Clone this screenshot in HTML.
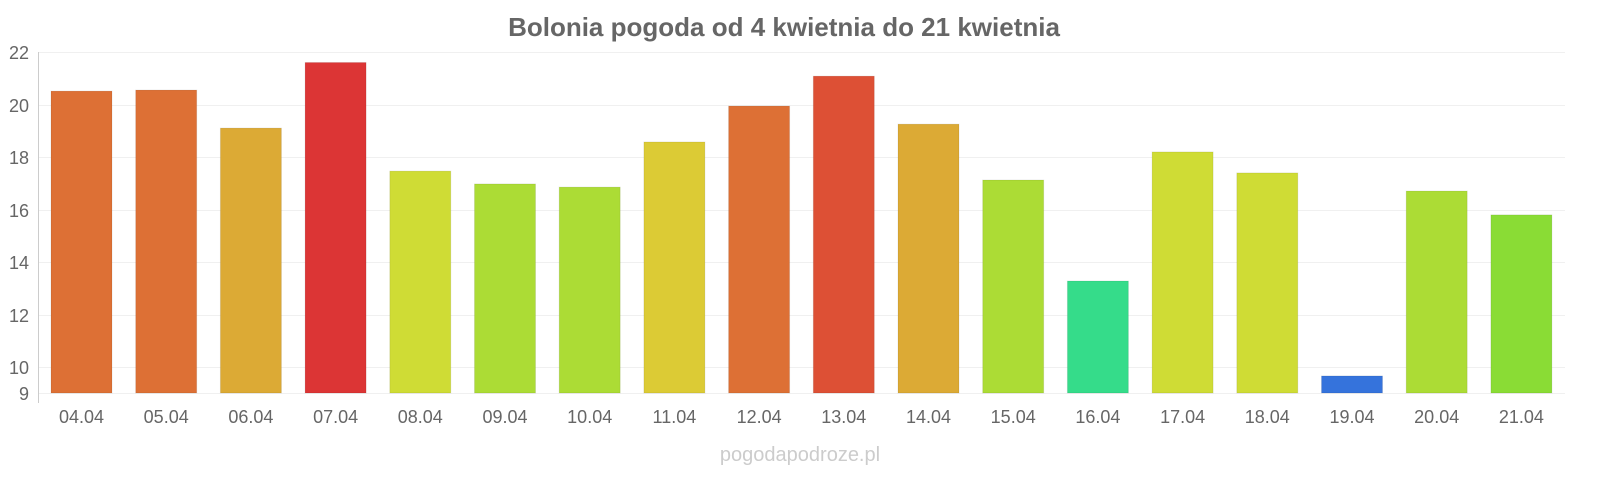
<!DOCTYPE html>
<html><head><meta charset="utf-8"><style>body{margin:0;background:#fff}svg{display:block}</style></head><body>
<svg width="1600" height="480" xmlns="http://www.w3.org/2000/svg" font-family="Liberation Sans, sans-serif">
<text x="784" y="36" text-anchor="middle" font-size="26" font-weight="bold" fill="#666">Bolonia pogoda od 4 kwietnia do 21 kwietnia</text>
<g stroke="#f0f0f0" stroke-width="1">
<line x1="38" x2="1565" y1="52.5" y2="52.5"/><line x1="38" x2="1565" y1="105.5" y2="105.5"/><line x1="38" x2="1565" y1="157.5" y2="157.5"/><line x1="38" x2="1565" y1="210.5" y2="210.5"/><line x1="38" x2="1565" y1="262.5" y2="262.5"/><line x1="38" x2="1565" y1="315.5" y2="315.5"/><line x1="38" x2="1565" y1="367.5" y2="367.5"/><line x1="38" x2="1565" y1="393.5" y2="393.5"/>
</g>
<line x1="38.5" x2="38.5" y1="52" y2="403" stroke="#ccc"/>
<g font-size="18" fill="#666" text-anchor="end">
<text x="29" y="59">22</text><text x="29" y="112">20</text><text x="29" y="164">18</text><text x="29" y="217">16</text><text x="29" y="269">14</text><text x="29" y="322">12</text><text x="29" y="374">10</text><text x="29" y="400">9</text>
</g>
<g id="bars"></g>
<g id="labels" font-size="18" fill="#666" text-anchor="middle"></g>
<text x="800" y="461" text-anchor="middle" font-size="20" fill="#ccc">pogodapodroze.pl</text>
<script>
var v=[20.51,20.55,19.1,21.6,17.46,16.97,16.85,18.57,19.94,21.08,19.25,17.12,13.27,18.19,17.39,9.65,16.7,15.79];
var c=["#dd7035","#dd7035","#dcaa35","#dc3535","#cfdc35","#acdc35","#acdc35","#dccb35","#dd7035","#dd5035","#dcaa35","#acdc35","#35dc8a","#cfdc35","#cfdc35","#3573dc","#acdc35","#8adc35"];
var ns="http://www.w3.org/2000/svg",b=document.getElementById("bars"),l=document.getElementById("labels");
for(var i=0;i<18;i++){var cx=81.5+i*84.7,y=52+(22-v[i])*26.23;
var r=document.createElementNS(ns,"rect");r.setAttribute("x",cx-30.5);r.setAttribute("width",61);r.setAttribute("y",y);r.setAttribute("height",393-y);r.setAttribute("fill",c[i]);r.setAttribute("stroke","rgba(0,0,0,0.08)");b.appendChild(r);
var t=document.createElementNS(ns,"text");t.setAttribute("x",cx);t.setAttribute("y",423);t.textContent=(i+4<10?"0":"")+(i+4)+".04";l.appendChild(t);}
</script>
</svg>
</body></html>
